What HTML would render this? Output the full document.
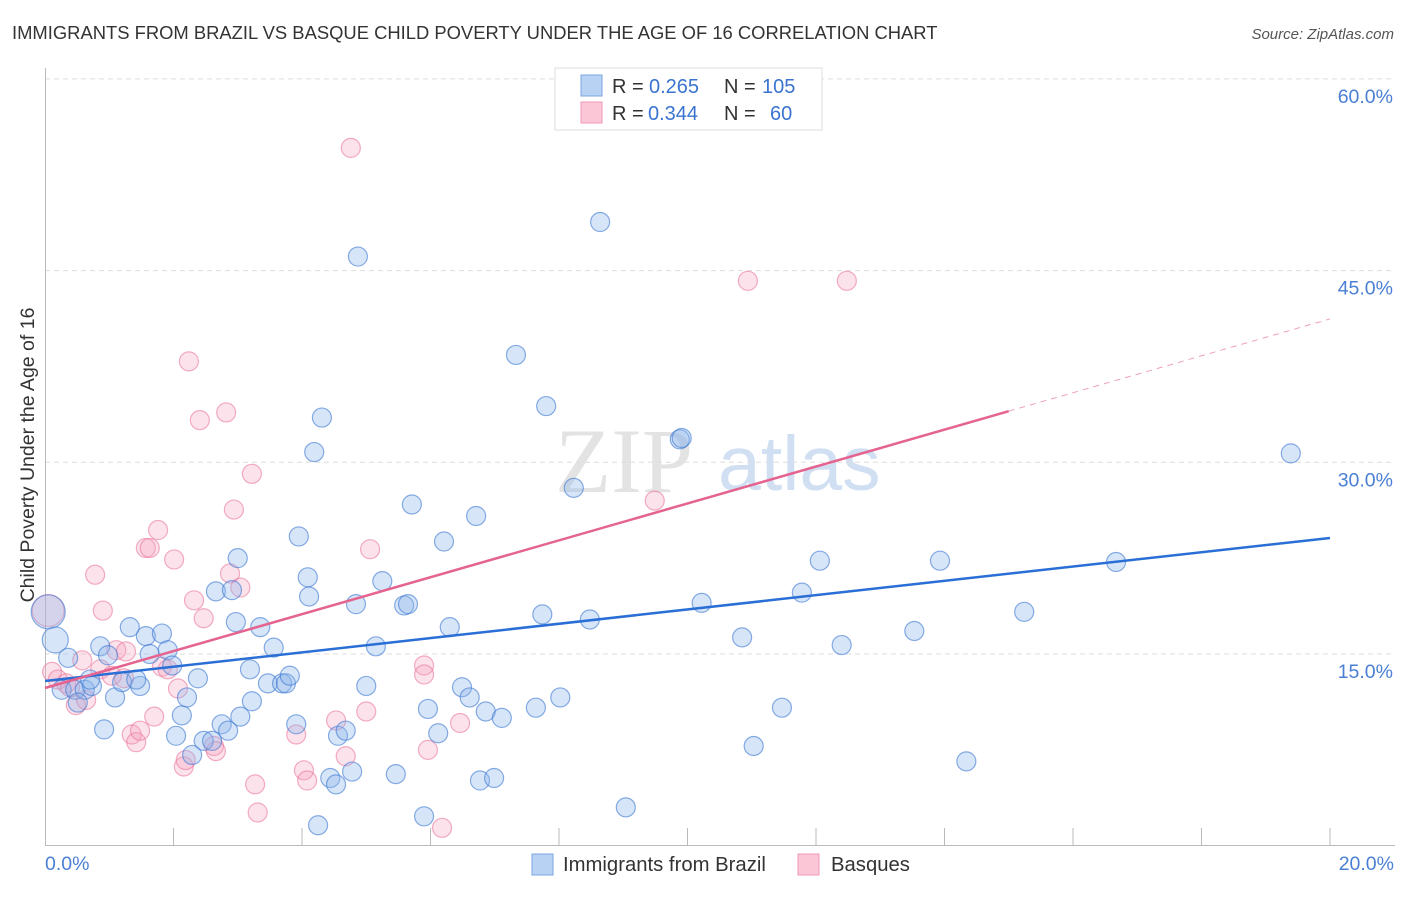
<!DOCTYPE html>
<html><head><meta charset="utf-8"><style>
body{margin:0;background:#fff;font-family:"Liberation Sans",sans-serif;}
</style></head><body>
<svg width="1406" height="892" xmlns="http://www.w3.org/2000/svg" font-family="Liberation Sans, sans-serif">
<text x="12" y="39" font-size="18.4" fill="#333">IMMIGRANTS FROM BRAZIL VS BASQUE CHILD POVERTY UNDER THE AGE OF 16 CORRELATION CHART</text>
<text x="1394" y="39" font-size="15" font-style="italic" fill="#555" text-anchor="end">Source: ZipAtlas.com</text>
<g>
<text x="555" y="492" font-size="92" font-family="Liberation Serif, serif" fill="#ddd" opacity="0.8">ZIP</text>
<text x="718" y="490" font-size="77" fill="#c5d8f0" opacity="0.8">atlas</text>
</g>
<g id="grid"></g>
<g id="axes"></g>
<g id="pts"></g>
<g id="lines"></g>
<text x="34" y="455" font-size="19.5" fill="#333" text-anchor="middle" transform="rotate(-90 34 455)">Child Poverty Under the Age of 16</text>
<g>
<rect x="555" y="68" width="267" height="62" fill="#fff" stroke="#ddd"/>
<rect x="581" y="75" width="21" height="21" fill="#b8d2f4" stroke="#7aa6e0"/>
<rect x="581" y="102" width="21" height="21" fill="#fbc6d6" stroke="#ee9ab4"/>
<text y="93" font-size="20"><tspan x="612" fill="#333">R = </tspan><tspan x="649" fill="#3a74d0">0.265</tspan><tspan x="724" fill="#333">N = </tspan><tspan x="762" fill="#3a74d0">105</tspan></text>
<text y="120" font-size="20"><tspan x="612" fill="#333">R = </tspan><tspan x="648" fill="#3a74d0">0.344</tspan><tspan x="724" fill="#333">N = </tspan><tspan x="770" fill="#3a74d0">60</tspan></text>
</g>
<g>
<rect x="532" y="854" width="21" height="21" fill="#b8d2f4" stroke="#7aa6e0"/>
<text x="563" y="871" font-size="20.3" fill="#333">Immigrants from Brazil</text>
<rect x="798" y="854" width="21" height="21" fill="#fbc6d6" stroke="#ee9ab4"/>
<text x="831" y="871" font-size="20.3" fill="#333">Basques</text>
</g>
</svg>
<script>
const xTickLabels=["0.0%","20.0%"];
const yTicks=[15,30,45,60];
const yTickLabels=["15.0%","30.0%","45.0%","60.0%"];
const brazilX=[0.05,0.16,0.36,0.26,0.47,0.62,0.51,0.73,0.86,0.70,0.92,0.98,1.09,1.20,1.32,1.48,1.57,1.63,1.82,1.91,1.98,1.42,2.04,2.13,2.21,2.29,2.38,2.47,2.60,2.66,2.75,2.85,2.91,2.97,3.00,3.04,3.19,3.22,3.35,3.47,3.56,3.69,3.75,3.81,3.91,3.95,4.09,4.11,4.19,4.25,4.31,4.44,4.53,4.56,4.68,4.78,4.84,4.87,5.00,5.15,5.25,5.46,5.59,5.65,5.71,5.90,5.96,6.12,6.21,6.30,6.49,6.61,6.71,6.77,6.86,6.99,7.11,7.33,7.64,7.74,7.80,8.02,8.23,8.48,8.64,9.04,9.88,9.91,10.22,10.85,11.03,11.47,11.78,12.06,12.40,13.53,13.93,14.34,15.24,16.67,19.39];
const brazilY=[18.3,16.1,14.7,12.2,12.2,12.2,11.2,12.5,15.6,13.0,9.1,14.9,11.6,12.8,17.1,12.5,16.4,15.0,16.6,15.3,14.1,13.0,8.6,10.2,11.6,7.1,13.1,8.2,8.2,19.9,9.5,9.0,20.0,17.5,22.5,10.1,13.8,11.3,17.1,12.7,15.5,12.7,12.7,13.3,9.5,24.2,21.0,19.5,30.8,1.6,33.5,5.3,4.8,8.6,9.0,5.8,18.9,46.1,12.5,15.6,20.7,5.6,18.8,18.9,26.7,2.3,10.7,8.8,23.8,17.1,12.4,11.6,25.8,5.1,10.5,5.3,10.0,38.4,10.8,18.1,34.4,11.6,28.0,17.7,48.8,3.0,31.8,31.9,19.0,16.3,7.8,10.8,19.8,22.3,15.7,16.8,22.3,6.6,18.3,22.2,30.7];
const basqueX=[0.05,0.11,0.20,0.33,0.39,0.48,0.58,0.64,0.78,0.86,0.90,1.04,1.11,1.23,1.26,1.35,1.42,1.48,1.57,1.63,1.70,1.76,1.82,1.91,2.01,2.07,2.16,2.19,2.24,2.32,2.41,2.47,2.63,2.66,2.82,2.88,2.94,3.04,3.22,3.27,3.31,3.91,4.03,4.08,4.53,4.68,4.76,5.00,5.06,5.90,5.90,5.96,6.18,6.46,9.49,10.94,12.48];
const basqueY=[18.4,13.6,13.0,12.7,12.4,11.0,14.5,11.4,21.2,13.8,18.4,13.3,15.3,13.1,15.2,8.7,8.1,9.0,23.3,23.3,10.1,24.7,14.0,13.8,22.4,12.3,6.2,6.7,37.9,19.2,33.3,17.8,7.8,7.4,33.9,21.3,26.3,20.2,29.1,4.8,2.6,8.7,5.9,5.1,9.8,7.0,54.6,10.5,23.2,14.1,13.4,7.5,1.4,9.6,27.0,44.2,44.2];
const brazilFit=[12.89,24.08];
const basqueFit=[12.34,1.444];
const basqueSolidEnd=15.0;
const NS="http://www.w3.org/2000/svg";
const X=v=>45+v/20*1285;
const Y=v=>845.7-v/15*191.7;
function mk(tag,attrs,parent){const e=document.createElementNS(NS,tag);for(const k in attrs)e.setAttribute(k,attrs[k]);parent.appendChild(e);return e;}
const grid=document.getElementById('grid'),axes=document.getElementById('axes'),pts=document.getElementById('pts'),lines=document.getElementById('lines');
yTicks.forEach((t,i)=>{
 const l=mk('line',{x1:45,x2:1395,y1:Y(t),y2:Y(t),stroke:'#ddd','stroke-dasharray':'5,4'},grid);
 
 
 const tx=mk('text',{x:1393,y:Y(t)+24,'font-size':19.5,fill:'#4a7fd4','text-anchor':'end'},axes);
 tx.textContent=yTickLabels[i];
 
 
});
const xa=mk('line',{x1:45,x2:1395,y1:845.5,y2:845.5,stroke:'#bbb'},axes);


const ya=mk('line',{x1:45.5,x2:45.5,y1:68,y2:846,stroke:'#bbb'},axes);


for(let i=1;i<=10;i++){
 const t=mk('line',{x1:X(i*2),x2:X(i*2),y1:828,y2:846,stroke:'#bbb'},axes);
 
 
}
[[0,'start',45],[20,'end',1394]].forEach((d,i)=>{
 const tx=mk('text',{x:d[2],y:870,'font-size':19.5,fill:'#4a7fd4','text-anchor':d[1]},axes);
 tx.textContent=xTickLabels[i];
 
 
});
basqueX.forEach((x,i)=>{
 const c=mk('circle',{cx:X(x),cy:Y(basqueY[i]),r:i===0?16:9.5,fill:'rgba(246,160,190,0.3)',stroke:'rgba(232,110,150,0.55)','stroke-width':1.2},pts);
 
 
});
brazilX.forEach((x,i)=>{
 const c=mk('circle',{cx:X(x),cy:Y(brazilY[i]),r:i===0?17:(i===1?13:9.5),fill:'rgba(140,180,235,0.35)',stroke:'rgba(60,120,210,0.6)','stroke-width':1.2},pts);
 
 
});
const bl=mk('line',{x1:X(0),y1:Y(brazilFit[0]),x2:X(20),y2:Y(brazilFit[1]),stroke:'#2a6fd6','stroke-width':2.5},lines);


const f=x=>basqueFit[0]+basqueFit[1]*x;
const pl=mk('line',{x1:X(0),y1:Y(f(0)),x2:X(basqueSolidEnd),y2:Y(f(basqueSolidEnd)),stroke:'#e4638f','stroke-width':2.5},lines);


const pd=mk('line',{x1:X(basqueSolidEnd),y1:Y(f(basqueSolidEnd)),x2:X(20),y2:Y(f(20)),stroke:'#e4638f','stroke-width':1,'stroke-dasharray':'6,5',opacity:0.6},lines);


</script>
</body></html>
